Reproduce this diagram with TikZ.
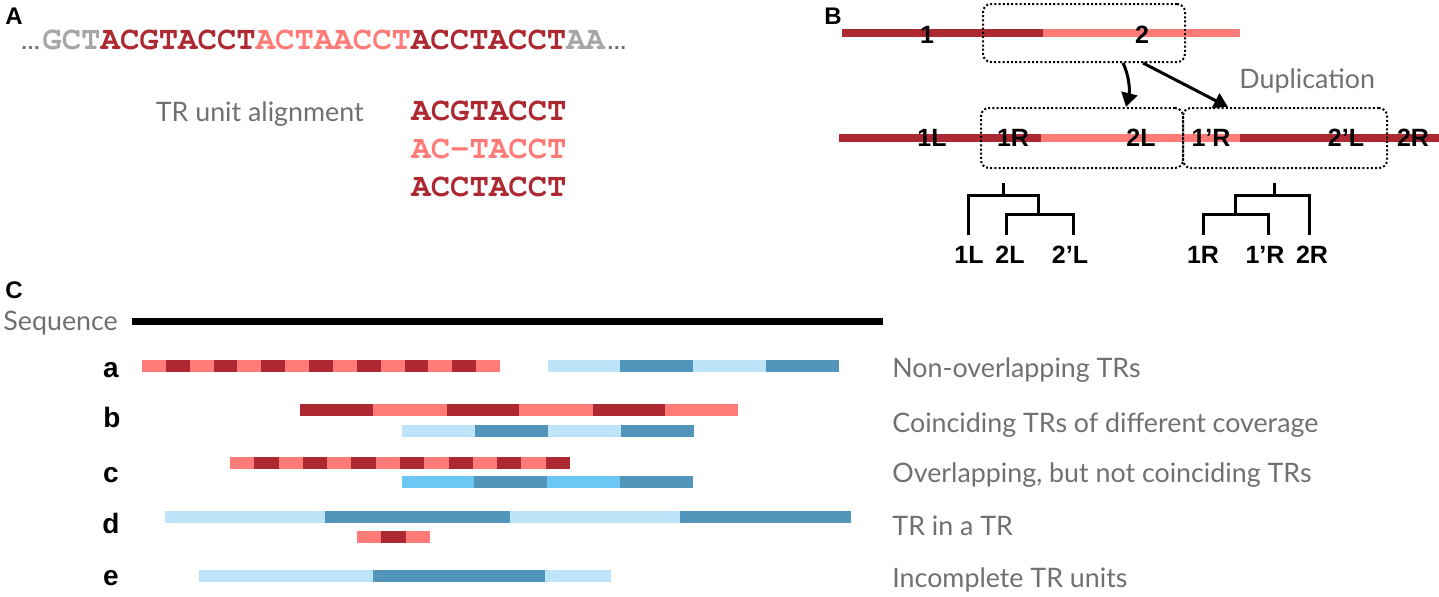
\documentclass[tikz,border=0pt]{standalone}
\usepackage[T1,TU]{fontenc}
\usepackage{fontspec}
\setmainfont{Lato}
\newfontfamily\boldsans{Liberation Sans}
\newcommand\seqfont{\fontencoding{T1}\fontfamily{pcr}\fontseries{b}\fontshape{n}\fontsize{14}{16}\selectfont}
\newcommand\seqbox[1]{\scalebox{1.155}[1.17]{\seqfont #1}}
\usetikzlibrary{arrows.meta}
\definecolor{dred}{HTML}{AD2932}
\definecolor{lred}{HTML}{FF7B77}
\definecolor{sgray}{HTML}{A6A6A6}
\definecolor{dotgray}{HTML}{6E6E6E}
\definecolor{labgray}{HTML}{707070}
\definecolor{lblue}{HTML}{BDE4F8}
\definecolor{dblue}{HTML}{5196BA}
\definecolor{mblue}{HTML}{6CC7F4}
\tikzset{
  lab/.style={inner sep=0pt, font=\fontsize{13.4}{15}\selectfont, text=labgray},
  panel/.style={inner sep=0pt, font=\boldsans\bfseries\fontsize{12}{14}\selectfont},
  rowlab/.style={inner sep=0pt, anchor=base, font=\boldsans\bfseries\fontsize{14}{16}\selectfont},
  num/.style={inner sep=0pt, font=\boldsans\bfseries\fontsize{12.5}{14}\selectfont},
  seqtxt/.style={inner sep=0pt, anchor=base west},
  dotbox/.style={draw, line width=1pt, dash pattern=on 1pt off 1.1pt, rounded corners=4pt, inner sep=0pt},
  arr/.style={line width=1.5pt, -{Triangle[width=8pt,length=7pt]}},
  tree/.style={line width=1.5pt},
}
\begin{document}
\begin{tikzpicture}[x=0.5pt,y=-0.5pt]
\useasboundingbox (0,0) rectangle (1439,596);
% ---------------- Panel A
\node[panel] (pA) at (14,16) {A};
\node[seqtxt] (seq) at (42,49) {\seqbox{\color{sgray}GCT\color{dred}ACGTACCT\color{lred}ACTAACCT\color{dred}ACCTACCT\color{sgray}AA}};
\node[inner sep=0pt, anchor=base east, text=dotgray, font=\boldsans\bfseries\fontsize{10}{12}\selectfont] (ldots) at ([xshift=-0.5pt]seq.base west) {…};
\node[inner sep=0pt, anchor=base west, text=dotgray, font=\boldsans\bfseries\fontsize{10}{12}\selectfont] (rdots) at ([xshift=0.5pt]seq.base east) {…};
\node[lab, anchor=base east] (tral) at (364,121) {TR unit alignment};
\node[seqtxt, text=dred] (al1) at (411,120) {\seqbox{ACGTACCT}};
\node[seqtxt, text=lred] (al2) at (411,158) {\seqbox{AC--TACCT}};
\node[seqtxt, text=dred] (al3) at (411,196) {\seqbox{ACCTACCT}};
% ---------------- Panel B
\node[panel] (pB) at (833,16) {B};
\fill[dred] (842,29) rectangle (1043,37);
\fill[lred] (1043,29) rectangle (1240,37);
\fill[dred] (839,134) rectangle (1041,142);
\fill[lred] (1041,134) rectangle (1240,142);
\fill[dred] (1240,134) rectangle (1439,142);
\node[dotbox, minimum width=101pt, minimum height=29pt] (topbox) at (1084,33) {};
\node[dotbox, minimum width=101pt, minimum height=30pt] (boxL) at (1082,138) {};
\node[dotbox, minimum width=102pt, minimum height=30pt] (boxR) at (1285,138) {};
\node[num] (n1) at (927,35) {1};
\node[num] (n2) at (1142,35) {2};
\node[num] (m1L) at (932,138) {1L};
\node[num] (m1R) at (1013,138) {1R};
\node[num] (m2L) at (1141,138) {2L};
\node[num] (m1pR) at (1211,138) {1’R};
\node[num] (m2pL) at (1346,138) {2’L};
\node[num] (m2R) at (1413,138) {2R};
\draw[arr] ([xshift=19.5pt]topbox.south) .. controls +(6,12) and +(4,-16) .. ([xshift=22pt]boxL.north);
\draw[arr] ([xshift=29.5pt]topbox.south) -- ([xshift=-28.5pt]boxR.north);
\node[lab, anchor=base west] (dup) at (1239,88) {Duplication};
% trees
\node[num] (t1L) at (969,255) {1L};
\node[num] (t2L) at (1010,255) {2L};
\node[num] (t2pL) at (1070,255) {2’L};
\node[num] (t1R) at (1203,255) {1R};
\node[num] (t1pR) at (1265,255) {1’R};
\node[num] (t2R) at (1312,255) {2R};
\draw[tree] (1003,183) -- (1003,195);
\draw[tree] (968,235) -- (968,195) -- (1038,195) -- (1038,214);
\draw[tree] (1006,235) -- (1006,214) -- (1073,214) -- (1073,235);
\draw[tree] (1274,183) -- (1274,195);
\draw[tree] (1235,214) -- (1235,195) -- (1309,195) -- (1309,235);
\draw[tree] (1203,235) -- (1203,214) -- (1268,214) -- (1268,235);
% ---------------- Panel C
\node[panel] (pC) at (14,290) {C};
\node[lab, anchor=base west] (seqlab) at (3,330) {Sequence};
\fill[black] (132,318) rectangle (883,325);
% row a
\fill[lred] (142,360) rectangle (500,372);
\foreach \i in {1,3,...,13} \fill[dred] ({142+\i*23.87},360) rectangle ++(23.87,12);
\fill[lblue] (548,360) rectangle (839,372);
\fill[dblue] (620,360) rectangle (693,372);
\fill[dblue] (766,360) rectangle (839,372);
% row b
\fill[lred] (300,404) rectangle (738,416);
\fill[dred] (300,404) rectangle (373,416);
\fill[dred] (447,404) rectangle (519,416);
\fill[dred] (593,404) rectangle (665,416);
\fill[lblue] (402,425) rectangle (694,437);
\fill[dblue] (475,425) rectangle (548,437);
\fill[dblue] (621,425) rectangle (694,437);
% row c
\fill[lred] (230,457) rectangle (570,469);
\foreach \i in {1,3,...,13} \fill[dred] ({230+\i*24.29},457) rectangle ++(24.29,12);
\fill[mblue] (402,476) rectangle (693,488);
\fill[dblue] (474,476) rectangle (547,488);
\fill[dblue] (620,476) rectangle (693,488);
% row d
\fill[lblue] (165,511) rectangle (851,523);
\fill[dblue] (325,511) rectangle (510,523);
\fill[dblue] (680,511) rectangle (851,523);
\fill[lred] (357,531) rectangle (430,543);
\fill[dred] (381,531) rectangle (406,543);
% row e
\fill[lblue] (199,570) rectangle (611,582);
\fill[dblue] (373,570) rectangle (545,582);
% row labels
\node[rowlab] (ra) at (111,377) {a};
\node[rowlab] (rb) at (112,427) {b};
\node[rowlab] (rc) at (111,482) {c};
\node[rowlab] (rd) at (111,533) {d};
\node[rowlab] (re) at (111,585) {e};
\node[lab, anchor=base west] (da) at (892,377) {Non-overlapping TRs};
\node[lab, anchor=base west] (db) at (892,432) {Coinciding TRs of different coverage};
\node[lab, anchor=base west] (dc) at (892,482) {Overlapping, but not coinciding TRs};
\node[lab, anchor=base west] (dd) at (892,535) {TR in a TR};
\node[lab, anchor=base west] (de) at (892,587) {Incomplete TR units};
\end{tikzpicture}
\end{document}
